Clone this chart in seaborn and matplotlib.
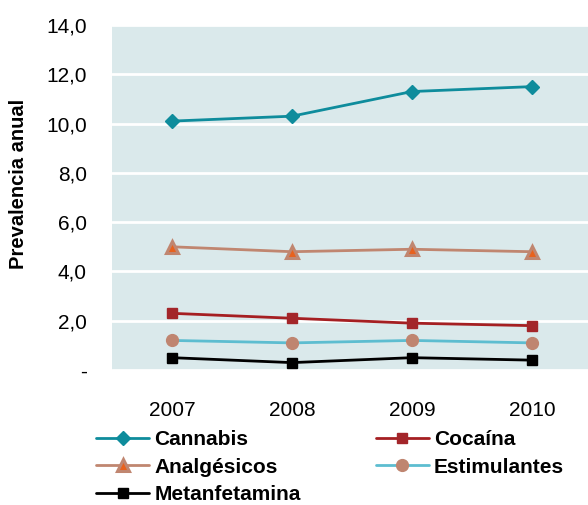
import matplotlib
matplotlib.use("Agg")
import matplotlib.pyplot as plt
import seaborn as sns
import pandas as pd
from matplotlib.ticker import FuncFormatter

# Annual prevalence by substance, 2007-2010
years = ["2007", "2008", "2009", "2010"]
cannabis = [10.1, 10.3, 11.3, 11.5]
cocaina = [2.3, 2.1, 1.9, 1.8]
analgesicos = [5.0, 4.8, 4.9, 4.8]
estimulantes = [1.2, 1.1, 1.2, 1.1]
metanfetamina = [0.5, 0.3, 0.5, 0.4]

series = {
    "Cannabis": cannabis,
    "Cocaína": cocaina,
    "Analgésicos": analgesicos,
    "Estimulantes": estimulantes,
    "Metanfetamina": metanfetamina,
}

styles = {
    "Cannabis": dict(color="#0E8C9C", marker="D", mfc="#0E8C9C", mec="#0E8C9C", ms=7, mew=1),
    "Cocaína": dict(color="#A51F22", marker="s", mfc="#A3262A", mec="#A3262A", ms=6.5, mew=1),
    "Analgésicos": dict(color="#C08670", marker="^", mfc="#E8621E", mec="#C08670", ms=8, mew=2.2),
    "Estimulantes": dict(color="#5DBDD0", marker="o", mfc="#BF8570", mec="#BF8570", ms=8.5, mew=1),
    "Metanfetamina": dict(color="#000000", marker="s", mfc="#000000", mec="#000000", ms=6.5, mew=1),
}

df = pd.DataFrame(
    [(y, name, v) for name, vals in series.items() for y, v in zip(years, vals)],
    columns=["Año", "Sustancia", "Prevalencia"],
)

sns.set_theme(style="white")
plt.rcParams["font.family"] = ["Liberation Sans", "DejaVu Sans"]
plt.rcParams["text.color"] = "#000000"

fig = plt.figure(figsize=(5.88, 5.05), dpi=100)
ax = fig.add_axes([112 / 588, 1 - 370 / 505, 480 / 588, 345 / 505])
ax.set_facecolor("#DAE9EB")

handles = {}
for name in series:
    sub = df[df["Sustancia"] == name]
    st = styles[name]
    sns.lineplot(
        data=sub, x="Año", y="Prevalencia", ax=ax, color=st["color"],
        linewidth=2, marker=st["marker"], markersize=st["ms"],
        markerfacecolor=st["mfc"], markeredgecolor=st["mec"],
        markeredgewidth=st["mew"], label=name, zorder=3,
    )
    handles[name] = ax.get_lines()[-1]

ax.set_xlim(-0.5, 3.5)
ax.set_ylim(0, 14)
ax.set_yticks(range(0, 15, 2))
ax.yaxis.set_major_formatter(
    FuncFormatter(lambda v, p: "-" if v == 0 else f"{v:.1f}".replace(".", ","))
)
ax.grid(axis="y", color="white", linewidth=2)
ax.grid(axis="x", visible=False)
ax.set_axisbelow(True)
for s in ax.spines.values():
    s.set_visible(False)
ax.tick_params(axis="both", length=0, labelsize=15, colors="#000000")
ax.tick_params(axis="x", pad=22)
ax.tick_params(axis="y", pad=18)
ax.set_xlabel("")
ax.set_ylabel("Prevalencia anual", fontsize=14.5, fontweight="bold", color="#000000")
ax.yaxis.set_label_coords(-0.175, 0.54)

ax.get_legend().remove()
order = ["Cannabis", "Analgésicos", "Metanfetamina", "Cocaína", "Estimulantes"]
leg = fig.legend(
    [handles[n] for n in order], order, ncol=2, loc="upper left",
    bbox_to_anchor=(96 / 588, 1 - 430 / 505), frameon=False,
    prop={"weight": "bold", "size": 15}, handlelength=2.55, handletextpad=0.25,
    columnspacing=3.6, labelspacing=0.42, borderaxespad=0, borderpad=0,
)
for t in leg.get_texts():
    t.set_color("#000000")

fig.savefig("out.png", dpi=100)
